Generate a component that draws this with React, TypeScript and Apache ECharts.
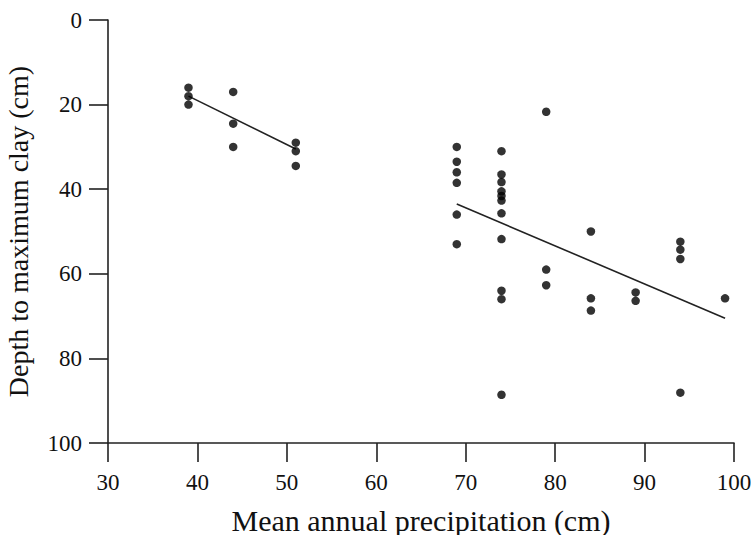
import React, { useEffect, useRef } from "react";
import * as echarts from "echarts";

// Mean annual precipitation (cm) and depth to maximum clay (cm) for each site
const precipitation = [
  39, 39, 39,
  44, 44, 44,
  51, 51, 51,
  69, 69, 69, 69, 69, 69,
  74, 74, 74, 74, 74, 74, 74, 74, 74, 74, 74,
  79, 79, 79,
  84, 84, 84,
  89, 89,
  94, 94, 94, 94,
  99,
];
const depth = [
  16, 18, 20,
  17, 24.5, 30,
  29, 31, 34.5,
  30, 33.5, 36, 38.5, 46, 53,
  31, 36.5, 38.3, 40.5, 41.6, 42.7, 45.7, 51.8, 64, 66, 88.6,
  21.7, 59, 62.7,
  50, 65.8, 68.7,
  64.4, 66.4,
  52.4, 54.3, 56.5, 88.1,
  65.8,
];

// Regression lines (end points)
const fitDryX = [39, 51];
const fitDryY = [18, 30.5];
const fitWetX = [69, 99];
const fitWetY = [43.5, 70.5];

const xTicks = { min: 30, max: 100, interval: 10 };
const yTicks = { min: 0, max: 100, interval: 20 };

const FONT = "'Liberation Serif', 'Times New Roman', serif";

export default function App() {
  const ref = useRef<HTMLDivElement>(null);
  useEffect(() => {
    if (!ref.current) return;
    const chart = echarts.init(ref.current, undefined, { renderer: "svg" });
    const points = precipitation.map((p, i) => [p, depth[i]]);
    const lineStyle = { color: "#222", width: 1.6 };
    chart.setOption({
      animation: false,
      backgroundColor: "#fff",
      grid: {
        left: 108,
        right: 21,
        top: 20,
        bottom: 92,
        containLabel: false,
        outerBoundsMode: "none",
      },
      xAxis: {
        type: "value",
        position: "bottom",
        min: xTicks.min,
        max: xTicks.max,
        interval: xTicks.interval,
        name: "Mean annual precipitation (cm)",
        nameLocation: "middle",
        nameGap: 62,
        nameTextStyle: { fontFamily: FONT, fontSize: 30, color: "#111" },
        axisLine: { show: true, onZero: false, lineStyle },
        axisTick: {
          show: true,
          length: 19,
          inside: false,
          lineStyle: { color: "#222", width: 1.6 },
        },
        axisLabel: { fontFamily: FONT, fontSize: 23, color: "#111", margin: 28 },
        splitLine: { show: false },
      },
      yAxis: {
        type: "value",
        position: "left",
        inverse: true,
        min: yTicks.min,
        max: yTicks.max,
        interval: yTicks.interval,
        name: "Depth to maximum clay (cm)",
        nameLocation: "middle",
        nameGap: 76,
        nameTextStyle: { fontFamily: FONT, fontSize: 28, color: "#111" },
        axisLine: { show: true, onZero: false, lineStyle },
        axisTick: {
          show: true,
          length: 19,
          inside: false,
          lineStyle: { color: "#222", width: 1.6 },
        },
        axisLabel: { fontFamily: FONT, fontSize: 23, color: "#111", margin: 26 },
        splitLine: { show: false },
      },
      series: [
        {
          type: "line",
          data: fitDryX.map((x, i) => [x, fitDryY[i]]),
          symbol: "none",
          lineStyle,
          z: 1,
        },
        {
          type: "line",
          data: fitWetX.map((x, i) => [x, fitWetY[i]]),
          symbol: "none",
          lineStyle,
          z: 1,
        },
        {
          type: "scatter",
          data: points,
          symbol: "circle",
          symbolSize: 8.5,
          itemStyle: { color: "#000" },
          z: 2,
        },
      ],
    });
    return () => chart.dispose();
  }, []);
  return (
    <div
      ref={ref}
      style={{ position: "fixed", left: 0, top: 0, width: 755, height: 535 }}
    />
  );
}
